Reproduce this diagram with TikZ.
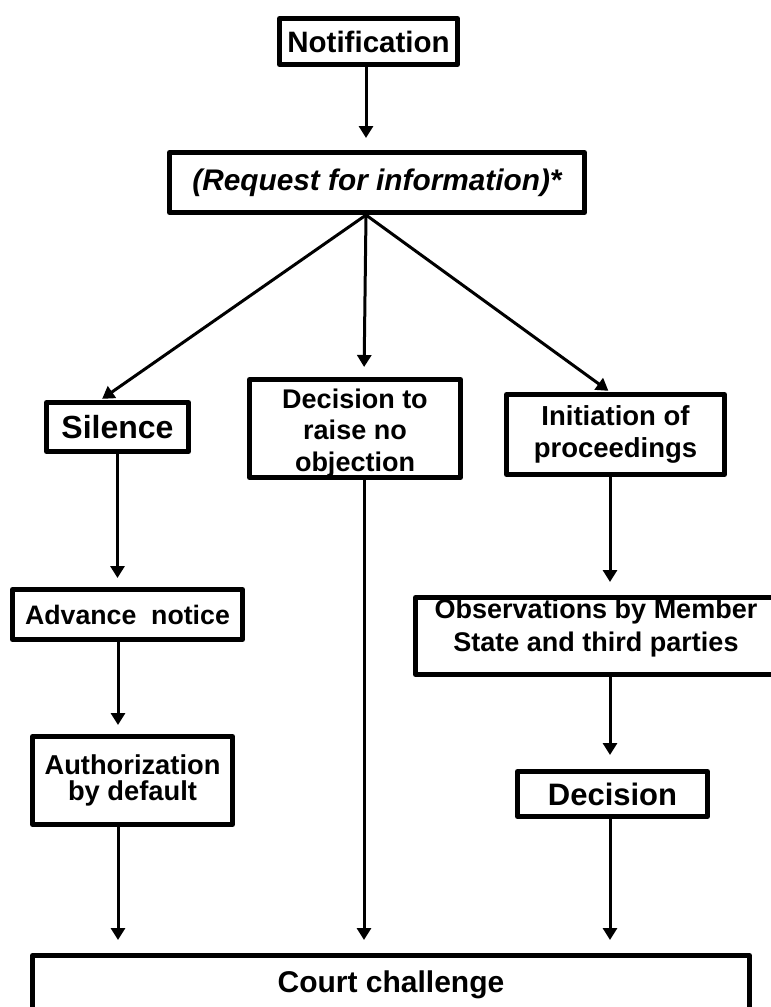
\documentclass[tikz,border=0pt]{standalone}
\usepackage{fontspec}
\setmainfont{Liberation Sans}
\usetikzlibrary{arrows.meta}
\begin{document}
\begin{tikzpicture}[x=1pt,y=-1pt,
  box/.style={draw, line width=5pt, line join=round, inner sep=0pt, outer sep=2.5pt, align=center},
  arr/.style={line width=3pt, -{Triangle[width=14pt,length=12pt]}}]
\useasboundingbox (0,0) rectangle (771,1007);

\node[box, minimum width=178pt, minimum height=46pt, font=\bfseries\fontsize{29.5}{33}\selectfont] (notif) at (368.5,41.5) {Notification};
\node[box, minimum width=415pt, minimum height=60pt, font=\bfseries\itshape\fontsize{29.8}{33}\selectfont] (req) at (377,182.5) {(Request for information)*};
\node[box, minimum width=142pt, minimum height=49pt, font=\bfseries\fontsize{32}{36}\selectfont] (sil) at (117.5,427) {Silence};
\node[box, minimum width=211pt, minimum height=98pt, font=\bfseries\fontsize{27}{31.5}\selectfont] (dnoobj) at (355,428.5) {\rule{0pt}{28pt}Decision to\\raise no\\objection};
\node[box, minimum width=218pt, minimum height=80pt, font=\bfseries\fontsize{27.5}{32}\selectfont] (init) at (615.5,434.5) {Initiation of\\proceedings};
\node[box, minimum width=230pt, minimum height=50pt, font=\bfseries\fontsize{26.7}{30}\selectfont] (adv) at (127.5,614.5) {Advance\ \ notice};
\node[box, minimum width=200pt, minimum height=88pt, font=\bfseries\fontsize{27.3}{26}\selectfont] (auth) at (132.5,780.5) {Authorization\\by default};
\node[box, minimum width=361pt, minimum height=77pt, font=\bfseries\fontsize{27}{33}\selectfont] (obs) at (596,636) {Observations by Member\\State and third parties\rule[-22pt]{0pt}{22pt}};
\node[box, minimum width=190pt, minimum height=45pt, font=\bfseries\fontsize{31}{35}\selectfont] (dec) at (612.5,794) {Decision};
\node[box, minimum width=717pt, minimum height=59pt, font=\bfseries\fontsize{30}{34}\selectfont] (court) at (391,985) {Court challenge};

% top chain
\draw[arr, shorten >=12pt] ([xshift=-2.5pt]notif.south) -- ([xshift=-2.5pt]notif.south |- req.north);
% fan
\draw[arr, shorten >=2pt] ([xshift=-11pt]req.south) -- ([xshift=-17pt]sil.north);
\draw[arr, shorten >=10pt] ([xshift=-11pt]req.south) -- ([xshift=9pt]dnoobj.north);
\draw[arr, shorten >=2pt] ([xshift=-11pt]req.south) -- ([xshift=-5.5pt]init.north);
% left column
\draw[arr, shorten >=9pt] (sil.south) -- (sil.south |- adv.north);
\draw[arr, shorten >=9pt] ([xshift=-9.5pt]adv.south) -- ([xshift=-9.5pt]adv.south |- auth.north);
\draw[arr, shorten >=13pt] ([xshift=-14.5pt]auth.south) -- ([xshift=-14.5pt]auth.south |- court.north);
% middle
\draw[arr, shorten >=13pt] ([xshift=9pt]dnoobj.south) -- ([xshift=9pt]dnoobj.south |- court.north);
% right column
\draw[arr, shorten >=13pt] ([xshift=-5.5pt]init.south) -- ([xshift=-5.5pt]init.south |- obs.north);
\draw[arr, shorten >=14pt] ([xshift=14pt]obs.south) -- ([xshift=14pt]obs.south |- dec.north);
\draw[arr, shorten >=13pt] ([xshift=-2.5pt]dec.south) -- ([xshift=-2.5pt]dec.south |- court.north);
\end{tikzpicture}
\end{document}
